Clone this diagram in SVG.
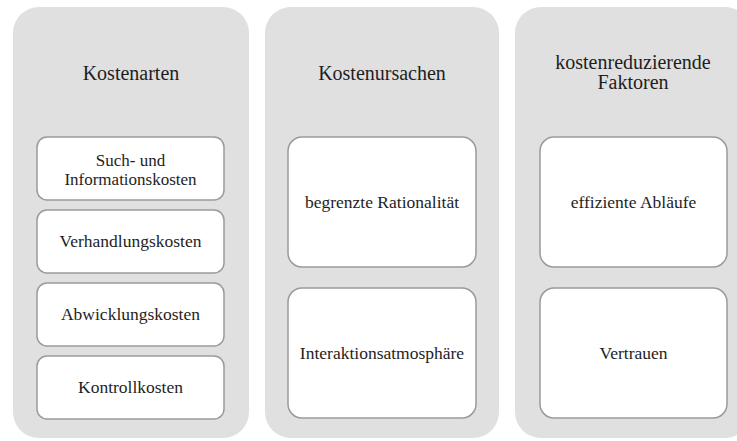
<svg xmlns="http://www.w3.org/2000/svg" width="737" height="441" viewBox="0 0 737 441">
<style>
.bg{fill:#ffffff}
.panel{fill:#e0e0e0;stroke:none}
.box{fill:#ffffff;stroke:#9a9a9a;stroke-width:1.5}
.t{font-family:"Liberation Serif","Times New Roman",serif;fill:#1e1e1e;text-anchor:middle}
.h{font-size:20px}
.b{font-size:17.5px}
.s{font-size:17px}
</style>
<rect class="bg" x="0" y="0" width="737" height="441"/>
<g id="panel-kostenarten">
<rect class="panel" x="13" y="7" width="236" height="431" rx="26"/>
<text class="t h" x="131" y="80">Kostenarten</text>
</g>
<g id="panel-kostenursachen">
<rect class="panel" x="265" y="7" width="234" height="431" rx="26"/>
<text class="t h" x="382" y="80">Kostenursachen</text>
</g>
<g id="panel-faktoren">
<rect class="panel" x="515" y="7" width="236" height="431" rx="26"/>
<text class="t h" x="633" y="69">kostenreduzierende</text>
<text class="t h" x="633" y="89">Faktoren</text>
</g>
<g id="node-such">
<rect class="box" x="37" y="137" width="187" height="63" rx="10"/>
<text class="t s" x="130.5" y="165.5">Such- und</text>
<text class="t s" x="130.5" y="184.5">Informationskosten</text>
</g>
<g id="node-verhandlung">
<rect class="box" x="37" y="210" width="187" height="63" rx="10"/>
<text class="t b" x="130.5" y="247">Verhandlungskosten</text>
</g>
<g id="node-abwicklung">
<rect class="box" x="37" y="283" width="187" height="63" rx="10"/>
<text class="t b" x="130.5" y="320">Abwicklungskosten</text>
</g>
<g id="node-kontroll">
<rect class="box" x="37" y="356" width="187" height="63" rx="10"/>
<text class="t b" x="130.5" y="393">Kontrollkosten</text>
</g>
<g id="node-rationalitaet">
<rect class="box" x="288" y="137" width="188" height="130" rx="14"/>
<text class="t b" x="382" y="208">begrenzte Rationalität</text>
</g>
<g id="node-interaktion">
<rect class="box" x="288" y="288" width="188" height="130" rx="14"/>
<text class="t b" x="382" y="359">Interaktionsatmosphäre</text>
</g>
<g id="node-ablaeufe">
<rect class="box" x="540" y="137" width="187" height="130" rx="14"/>
<text class="t b" x="633.5" y="208">effiziente Abläufe</text>
</g>
<g id="node-vertrauen">
<rect class="box" x="540" y="288" width="187" height="130" rx="14"/>
<text class="t b" x="633.5" y="359">Vertrauen</text>
</g>
<g id="connectors"></g>
</svg>
